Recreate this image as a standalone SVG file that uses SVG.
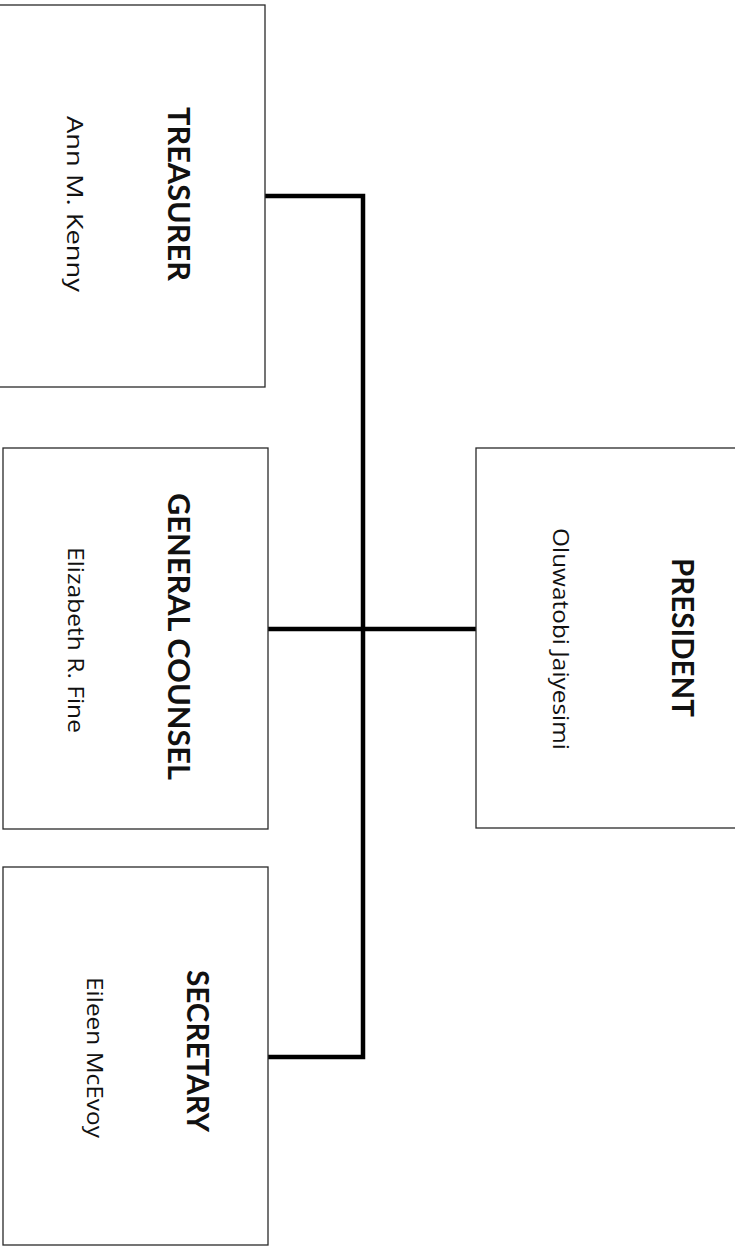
<svg xmlns="http://www.w3.org/2000/svg" width="735" height="1247" viewBox="0 0 735 1247">
<style>
.box{fill:#fff;stroke:#2a2a2a;stroke-width:1.3}
.title{font-family:Lato,"Open Sans","Liberation Sans",sans-serif;font-weight:bold;font-size:31px;fill:#111}
.name{font-family:"Open Sans",Lato,"Liberation Sans",sans-serif;font-size:21px;fill:#111}
.conn{fill:none;stroke:#000;stroke-width:4.5;stroke-linejoin:miter}
</style>
<rect width="735" height="1247" fill="#fff"/>
<g id="connectors">
<path class="conn" d="M265 196 H363 V1057 H268"/>
<path class="conn" d="M265 629 H476"/>
</g>
<g id="treasurer">
<rect class="box" x="-3" y="5" width="268" height="382"/>
<text class="title" transform="translate(168,107) rotate(90)" textLength="174" lengthAdjust="spacingAndGlyphs">TREASURER</text>
<text class="name" transform="translate(67,116) rotate(90)" textLength="176" lengthAdjust="spacingAndGlyphs">Ann M. Kenny</text>
</g>
<g id="general-counsel">
<rect class="box" x="3" y="448" width="265" height="381"/>
<text class="title" transform="translate(168,493) rotate(90)" textLength="287" lengthAdjust="spacingAndGlyphs">GENERAL COUNSEL</text>
<text class="name" transform="translate(68,547) rotate(90)" textLength="186" lengthAdjust="spacingAndGlyphs">Elizabeth R. Fine</text>
</g>
<g id="secretary">
<rect class="box" x="3" y="867" width="265" height="378"/>
<text class="title" transform="translate(187,970) rotate(90)" textLength="162" lengthAdjust="spacingAndGlyphs">SECRETARY</text>
<text class="name" transform="translate(87,977) rotate(90)" textLength="161" lengthAdjust="spacingAndGlyphs">Eileen McEvoy</text>
</g>
<g id="president">
<rect class="box" x="476" y="448" width="264" height="380"/>
<text class="title" transform="translate(672,558) rotate(90)" textLength="159" lengthAdjust="spacingAndGlyphs">PRESIDENT</text>
<text class="name" transform="translate(553,528) rotate(90)" textLength="222" lengthAdjust="spacingAndGlyphs">Oluwatobi Jaiyesimi</text>
</g>
</svg>
